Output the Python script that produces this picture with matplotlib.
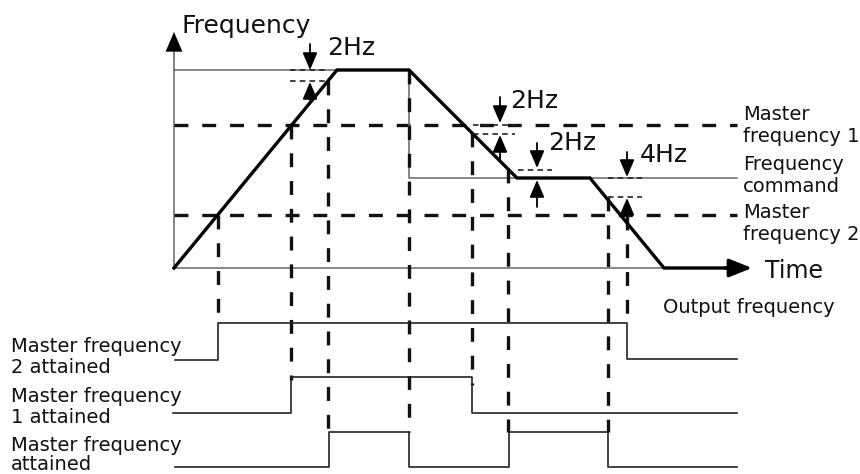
import matplotlib
matplotlib.use("Agg")
import matplotlib.pyplot as plt

plt.rcParams["font.family"] = ["DejaVu Sans"]
plt.rcParams["lines.scale_dashes"] = False

# ---------------- data (diagram units: x = time, y = frequency drawn downward) -------------
t_start = 174          # time axis origin
t_accel_end = 337      # end of acceleration
t_decel1_start = 409   # frequency command lowered
t_decel1_end = 517
t_decel2_start = 590   # stop command
t_stop = 664
t_axis_end = 752       # tip of time arrow
t_lines_end = 737

f_zero = 268
f_max = 70             # first frequency command
f_cmd = 178            # second frequency command
f_mf1 = 125            # master frequency 1
f_mf2 = 215            # master frequency 2
f_axis_top = 32

out_t = [t_start, t_accel_end, t_decel1_start, t_decel1_end, t_decel2_start, t_stop, 735]
out_f = [f_zero, f_max, f_max, f_cmd, f_cmd, f_zero, f_zero]

cmd_t = [t_start, t_decel1_start, t_decel1_start, t_lines_end]
cmd_f = [f_max, f_max, f_cmd, f_cmd]

# event instants and extents of vertical dashed guides
event_t = [218, 291, 328, 409, 472, 508, 608, 627]
event_top = [215, 125, 81, 70, 133, 169, 197, 216]
event_bottom = [323, 380, 432, 432, 385, 432, 432, 323]

# digital output signals
sig_mf2_t = [175, 218, 218, 627, 627, t_lines_end]
sig_mf2_y = [360, 360, 323, 323, 359, 359]
sig_mf1_t = [173, 291, 291, 472, 472, t_lines_end]
sig_mf1_y = [413, 413, 377, 377, 413, 413]
sig_mf_t = [175, 329, 329, 409, 409, 509, 509, 608, 608, t_lines_end]
sig_mf_y = [467, 467, 432, 432, 467, 467, 432, 432, 467, 467]

# tolerance markers: (x, down tail, down tip, up tail, up tip, ref lines, x0, x1, label, label x, label y)
tol_marks = [
    (310, 44, 70, 100, 82, [70, 81], 290, 327, "2Hz", 327, 55),
    (500, 97, 123, 160, 135, [125, 134], 473, 515, "2Hz", 510, 108),
    (537, 143, 168, 207, 180, [170], 518, 552, "2Hz", 548, 150),
    (627, 152, 177, 217, 198, [178, 197], 608, 642, "4Hz", 640, 162),
]

right_labels = [("Master", 120), ("frequency 1", 142), ("Frequency", 170),
                ("command", 192), ("Master", 218), ("frequency 2", 240)]
left_labels = [("Master frequency", 352), ("2 attained", 373), ("Master frequency", 402),
               ("1 attained", 423)]
bottom_label = "Master frequency\nattained"

# ---------------- drawing ----------------
fig = plt.figure(figsize=(8.6, 4.74), dpi=100)
ax = fig.add_axes([0, 0, 1, 1])
ax.set_xlim(0, 860)
ax.set_ylim(474, 0)
ax.axis("off")

thin_grey = "#666666"
dash_style = dict(color="#111111", lw=2.4, linestyle=(0, (10, 10)))

# axes
ax.plot([t_start, t_start], [f_zero, 48], color=thin_grey, lw=1.1)
ax.annotate("", xy=(t_start, f_axis_top), xytext=(t_start, 60),
            arrowprops=dict(arrowstyle="-|>,head_length=0.7,head_width=0.3",
                            color="black", lw=0.1, shrinkA=0, shrinkB=0, mutation_scale=20))
ax.plot([t_start, t_stop], [f_zero, f_zero], color=thin_grey, lw=1.1)

# master frequency levels
ax.plot([t_start, t_lines_end], [f_mf1, f_mf1], **dash_style)
ax.plot([t_start, t_lines_end], [f_mf2, f_mf2], **dash_style)

# frequency command
ax.plot(cmd_t, cmd_f, color=thin_grey, lw=1.1)

# vertical event guides
for x, y0, y1 in zip(event_t, event_top, event_bottom):
    ax.plot([x, x], [y0, y1], **dash_style)

# output frequency
ax.plot(out_t, out_f, color="black", lw=2.4, solid_joinstyle="miter")
ax.annotate("", xy=(t_axis_end, f_zero), xytext=(725, f_zero),
            arrowprops=dict(arrowstyle="-|>,head_length=0.7,head_width=0.28",
                            color="black", lw=2.3, shrinkA=0, shrinkB=0, mutation_scale=20))

# digital signals
for ts, ys in [(sig_mf2_t, sig_mf2_y), (sig_mf1_t, sig_mf1_y), (sig_mf_t, sig_mf_y)]:
    ax.plot(ts, ys, color="#222222", lw=1.2)

# tolerance markers
for (x, dt, dp, ut, up, refs, x0, x1, lab, lx, ly) in tol_marks:
    for r in refs:
        ax.plot([x0, x1], [r, r], color="#222222", lw=1.2, linestyle=(0, (4, 3)))
    for tail, tip in [(dt, dp), (ut, up)]:
        ax.annotate("", xy=(x, tip), xytext=(x, tail),
                    arrowprops=dict(arrowstyle="-|>,head_length=0.75,head_width=0.32",
                                    color="black", lw=1.3, shrinkA=0, shrinkB=0,
                                    mutation_scale=14))
    ax.text(lx, ly, lab, fontsize=18, va="baseline", ha="left", color="#111111")

# texts
ax.text(181, 33, "Frequency", fontsize=18, va="baseline", ha="left", color="#111111")
ax.text(765, 278, "Time", fontsize=17, va="baseline", ha="left", color="#111111")
ax.text(663, 313, "Output frequency", fontsize=14, va="baseline", ha="left", color="#111111")
for s, y in right_labels:
    ax.text(743, y, s, fontsize=14, va="baseline", ha="left", color="#111111")
for s, y in left_labels:
    ax.text(11, y, s, fontsize=14, va="baseline", ha="left", color="#111111")
ax.text(11, 473.5, bottom_label, fontsize=14, va="bottom", ha="left",
        linespacing=0.95, color="#111111")

fig.savefig("out.png", dpi=100)
